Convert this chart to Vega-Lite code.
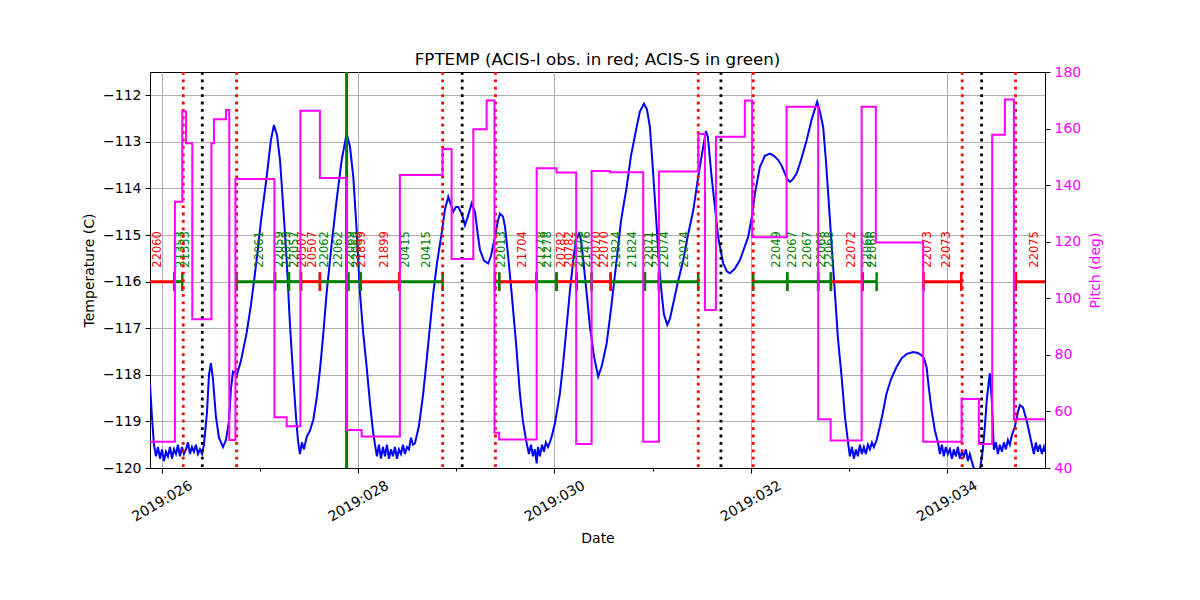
{
  "$schema": "https://vega.github.io/schema/vega-lite/v6.json",
  "width": 895,
  "height": 396,
  "autosize": "none",
  "padding": {"left": 150, "top": 72, "right": 155, "bottom": 132},
  "config": {
    "view": {"stroke": "black", "strokeWidth": 1},
    "font": "DejaVu Sans",
    "axis": {
      "labelFont": "DejaVu Sans", "labelFontSize": 14, "labelColor": "black",
      "titleFont": "DejaVu Sans", "titleFontSize": 14, "titleFontWeight": "normal", "titleColor": "black",
      "domainColor": "black", "tickColor": "black", "gridColor": "#b0b0b0", "gridWidth": 1
    }
  },
  "title": {"text": "FPTEMP (ACIS-I obs. in red; ACIS-S in green)", "font": "DejaVu Sans", "fontSize": 16.7, "fontWeight": "normal", "color": "black", "offset": -4},
  "datasets": {
    "temp": [
      {"d":25.878,"t":-118.2},{"d":25.898,"t":-118.9},{"d":25.918,"t":-119.5},{"d":25.939,"t":-119.75},
      {"d":25.959,"t":-119.55},{"d":25.980,"t":-119.8},{"d":26.000,"t":-119.6},{"d":26.020,"t":-119.85},
      {"d":26.041,"t":-119.65},{"d":26.061,"t":-119.75},{"d":26.082,"t":-119.55},{"d":26.102,"t":-119.8},
      {"d":26.122,"t":-119.6},{"d":26.143,"t":-119.7},{"d":26.163,"t":-119.5},{"d":26.183,"t":-119.75},
      {"d":26.204,"t":-119.55},{"d":26.224,"t":-119.7},{"d":26.245,"t":-119.6},{"d":26.265,"t":-119.45},
      {"d":26.285,"t":-119.7},{"d":26.306,"t":-119.55},{"d":26.326,"t":-119.65},{"d":26.346,"t":-119.5},
      {"d":26.367,"t":-119.7},{"d":26.387,"t":-119.6},{"d":26.408,"t":-119.7},{"d":26.428,"t":-119.5},
      {"d":26.459,"t":-118.8},{"d":26.479,"t":-118.0},{"d":26.499,"t":-117.75},{"d":26.520,"t":-118.1},
      {"d":26.550,"t":-118.9},{"d":26.581,"t":-119.35},{"d":26.622,"t":-119.55},{"d":26.652,"t":-119.4},
      {"d":26.683,"t":-119.0},{"d":26.703,"t":-118.3},{"d":26.724,"t":-117.93},{"d":26.744,"t":-117.95},
      {"d":26.764,"t":-118.0},{"d":26.805,"t":-117.7},{"d":26.863,"t":-117.1},{"d":26.907,"t":-116.5},
      {"d":26.965,"t":-115.54},{"d":27.009,"t":-114.7},{"d":27.067,"t":-113.75},{"d":27.111,"t":-112.95},
      {"d":27.141,"t":-112.64},{"d":27.172,"t":-112.85},{"d":27.203,"t":-113.39},{"d":27.233,"t":-114.3},
      {"d":27.271,"t":-115.54},{"d":27.304,"t":-116.9},{"d":27.338,"t":-118.04},{"d":27.366,"t":-118.9},
      {"d":27.386,"t":-119.4},{"d":27.406,"t":-119.7},{"d":27.427,"t":-119.45},{"d":27.447,"t":-119.6},
      {"d":27.475,"t":-119.33},{"d":27.508,"t":-119.2},{"d":27.542,"t":-118.97},{"d":27.577,"t":-118.5},
      {"d":27.610,"t":-117.9},{"d":27.641,"t":-117.2},{"d":27.678,"t":-116.25},{"d":27.729,"t":-115.2},
      {"d":27.780,"t":-114.25},{"d":27.831,"t":-113.4},{"d":27.882,"t":-112.82},{"d":27.916,"t":-113.1},
      {"d":27.950,"t":-113.75},{"d":27.984,"t":-114.9},{"d":28.018,"t":-116.25},{"d":28.051,"t":-117.1},
      {"d":28.086,"t":-117.83},{"d":28.120,"t":-118.6},{"d":28.150,"t":-119.2},{"d":28.171,"t":-119.5},
      {"d":28.191,"t":-119.75},{"d":28.211,"t":-119.5},{"d":28.232,"t":-119.8},{"d":28.252,"t":-119.55},
      {"d":28.273,"t":-119.75},{"d":28.293,"t":-119.5},{"d":28.313,"t":-119.8},{"d":28.334,"t":-119.6},
      {"d":28.354,"t":-119.75},{"d":28.375,"t":-119.55},{"d":28.395,"t":-119.8},{"d":28.415,"t":-119.6},
      {"d":28.436,"t":-119.7},{"d":28.456,"t":-119.5},{"d":28.476,"t":-119.7},{"d":28.497,"t":-119.55},
      {"d":28.517,"t":-119.6},{"d":28.538,"t":-119.35},{"d":28.558,"t":-119.5},{"d":28.578,"t":-119.47},
      {"d":28.619,"t":-119.1},{"d":28.663,"t":-118.4},{"d":28.711,"t":-117.4},{"d":28.765,"t":-116.25},
      {"d":28.803,"t":-115.6},{"d":28.850,"t":-114.97},{"d":28.884,"t":-114.45},{"d":28.918,"t":-114.18},
      {"d":28.945,"t":-114.35},{"d":28.969,"t":-114.5},{"d":28.996,"t":-114.4},{"d":29.020,"t":-114.4},
      {"d":29.057,"t":-114.55},{"d":29.088,"t":-114.79},{"d":29.118,"t":-114.6},{"d":29.156,"t":-114.32},
      {"d":29.190,"t":-114.5},{"d":29.220,"t":-115.0},{"d":29.241,"t":-115.32},{"d":29.282,"t":-115.55},
      {"d":29.325,"t":-115.61},{"d":29.353,"t":-115.45},{"d":29.394,"t":-115.04},{"d":29.424,"t":-114.7},
      {"d":29.445,"t":-114.54},{"d":29.475,"t":-114.6},{"d":29.496,"t":-114.82},{"d":29.526,"t":-115.4},
      {"d":29.564,"t":-116.25},{"d":29.608,"t":-117.3},{"d":29.648,"t":-118.4},{"d":29.679,"t":-119.0},
      {"d":29.717,"t":-119.47},{"d":29.740,"t":-119.7},{"d":29.761,"t":-119.5},{"d":29.781,"t":-119.75},
      {"d":29.801,"t":-119.6},{"d":29.819,"t":-119.9},{"d":29.832,"t":-119.55},{"d":29.852,"t":-119.75},
      {"d":29.873,"t":-119.5},{"d":29.893,"t":-119.65},{"d":29.913,"t":-119.45},{"d":29.934,"t":-119.55},
      {"d":29.954,"t":-119.45},{"d":29.975,"t":-119.3},{"d":30.005,"t":-119.04},{"d":30.056,"t":-118.4},
      {"d":30.087,"t":-117.8},{"d":30.124,"t":-116.97},{"d":30.158,"t":-116.2},{"d":30.192,"t":-115.54},
      {"d":30.219,"t":-115.1},{"d":30.253,"t":-114.97},{"d":30.270,"t":-115.1},{"d":30.294,"t":-115.54},
      {"d":30.331,"t":-116.3},{"d":30.362,"t":-116.97},{"d":30.403,"t":-117.6},{"d":30.446,"t":-118.04},
      {"d":30.484,"t":-117.8},{"d":30.532,"t":-117.33},{"d":30.576,"t":-116.6},{"d":30.634,"t":-115.54},
      {"d":30.678,"t":-114.7},{"d":30.736,"t":-113.97},{"d":30.780,"t":-113.3},{"d":30.838,"t":-112.68},
      {"d":30.871,"t":-112.35},{"d":30.912,"t":-112.18},{"d":30.943,"t":-112.3},{"d":30.973,"t":-112.68},
      {"d":31.004,"t":-113.6},{"d":31.042,"t":-114.82},{"d":31.065,"t":-115.6},{"d":31.093,"t":-116.25},
      {"d":31.116,"t":-116.7},{"d":31.150,"t":-116.93},{"d":31.177,"t":-116.8},{"d":31.211,"t":-116.47},
      {"d":31.259,"t":-116.0},{"d":31.313,"t":-115.54},{"d":31.361,"t":-115.0},{"d":31.415,"t":-114.47},
      {"d":31.462,"t":-113.8},{"d":31.516,"t":-113.11},{"d":31.544,"t":-112.77},{"d":31.564,"t":-112.9},
      {"d":31.602,"t":-113.75},{"d":31.636,"t":-114.4},{"d":31.669,"t":-115.04},{"d":31.720,"t":-115.61},
      {"d":31.758,"t":-115.78},{"d":31.789,"t":-115.82},{"d":31.839,"t":-115.72},{"d":31.890,"t":-115.54},
      {"d":31.931,"t":-115.3},{"d":31.975,"t":-115.04},{"d":32.013,"t":-114.6},{"d":32.043,"t":-114.11},
      {"d":32.094,"t":-113.54},{"d":32.145,"t":-113.3},{"d":32.196,"t":-113.25},{"d":32.237,"t":-113.3},
      {"d":32.281,"t":-113.39},{"d":32.318,"t":-113.52},{"d":32.349,"t":-113.68},{"d":32.380,"t":-113.82},
      {"d":32.400,"t":-113.86},{"d":32.431,"t":-113.8},{"d":32.468,"t":-113.68},{"d":32.512,"t":-113.4},
      {"d":32.570,"t":-112.97},{"d":32.624,"t":-112.5},{"d":32.678,"t":-112.14},{"d":32.706,"t":-112.35},
      {"d":32.739,"t":-112.68},{"d":32.767,"t":-113.4},{"d":32.790,"t":-114.11},{"d":32.825,"t":-115.2},
      {"d":32.859,"t":-116.25},{"d":32.889,"t":-117.2},{"d":32.927,"t":-118.04},{"d":32.961,"t":-118.9},
      {"d":32.994,"t":-119.47},{"d":33.011,"t":-119.75},{"d":33.032,"t":-119.55},{"d":33.052,"t":-119.8},
      {"d":33.073,"t":-119.6},{"d":33.093,"t":-119.75},{"d":33.113,"t":-119.5},{"d":33.134,"t":-119.7},
      {"d":33.154,"t":-119.55},{"d":33.174,"t":-119.7},{"d":33.195,"t":-119.5},{"d":33.215,"t":-119.6},
      {"d":33.236,"t":-119.45},{"d":33.256,"t":-119.55},{"d":33.284,"t":-119.4},{"d":33.317,"t":-119.11},
      {"d":33.348,"t":-118.8},{"d":33.385,"t":-118.4},{"d":33.429,"t":-118.1},{"d":33.487,"t":-117.83},
      {"d":33.541,"t":-117.64},{"d":33.592,"t":-117.55},{"d":33.657,"t":-117.51},{"d":33.704,"t":-117.53},
      {"d":33.742,"t":-117.58},{"d":33.766,"t":-117.65},{"d":33.793,"t":-117.83},{"d":33.817,"t":-118.3},
      {"d":33.844,"t":-118.76},{"d":33.878,"t":-119.2},{"d":33.911,"t":-119.47},{"d":33.929,"t":-119.7},
      {"d":33.949,"t":-119.5},{"d":33.969,"t":-119.75},{"d":33.990,"t":-119.55},{"d":34.010,"t":-119.7},
      {"d":34.031,"t":-119.6},{"d":34.051,"t":-119.8},{"d":34.071,"t":-119.6},{"d":34.092,"t":-119.75},
      {"d":34.112,"t":-119.55},{"d":34.132,"t":-119.8},{"d":34.153,"t":-119.65},{"d":34.173,"t":-119.75},
      {"d":34.194,"t":-119.6},{"d":34.214,"t":-119.85},{"d":34.234,"t":-119.7},{"d":34.268,"t":-119.97},
      {"d":34.296,"t":-120.1},{"d":34.336,"t":-120.05},{"d":34.367,"t":-119.6},{"d":34.387,"t":-119.11},
      {"d":34.408,"t":-118.5},{"d":34.438,"t":-117.97},{"d":34.459,"t":-118.6},{"d":34.479,"t":-119.61},
      {"d":34.499,"t":-119.45},{"d":34.520,"t":-119.7},{"d":34.540,"t":-119.5},{"d":34.561,"t":-119.65},
      {"d":34.581,"t":-119.45},{"d":34.601,"t":-119.6},{"d":34.622,"t":-119.4},{"d":34.642,"t":-119.5},
      {"d":34.662,"t":-119.3},{"d":34.693,"t":-119.11},{"d":34.724,"t":-118.8},{"d":34.744,"t":-118.65},
      {"d":34.775,"t":-118.7},{"d":34.812,"t":-118.97},{"d":34.836,"t":-119.2},{"d":34.863,"t":-119.47},
      {"d":34.887,"t":-119.7},{"d":34.907,"t":-119.45},{"d":34.927,"t":-119.65},{"d":34.948,"t":-119.5},
      {"d":34.968,"t":-119.7},{"d":34.989,"t":-119.55},{"d":35.000,"t":-119.65}
    ],
    "pitch": [
      {"d":25.878,"p":49.3},{"d":26.132,"p":134.1},{"d":26.207,"p":166},{"d":26.245,"p":154.8},
      {"d":26.309,"p":92.6},{"d":26.504,"p":154.8},{"d":26.530,"p":163.3},{"d":26.652,"p":166.6},
      {"d":26.686,"p":49.9},{"d":26.749,"p":142.2},{"d":27.146,"p":57.9},{"d":27.271,"p":54.8},
      {"d":27.411,"p":166.3},{"d":27.610,"p":142.5},{"d":27.885,"p":53.4},{"d":28.035,"p":51.1},
      {"d":28.425,"p":143.6},{"d":28.859,"p":152.8},{"d":28.952,"p":113.9},{"d":29.173,"p":159.8},
      {"d":29.309,"p":169.9},{"d":29.389,"p":52.5},{"d":29.437,"p":50.1},{"d":29.819,"p":146},
      {"d":30.022,"p":144.5},{"d":30.222,"p":48.5},{"d":30.379,"p":145},{"d":30.566,"p":144.6},
      {"d":30.905,"p":49.3},{"d":31.065,"p":144.8},{"d":31.466,"p":158.1},{"d":31.534,"p":95.9},
      {"d":31.646,"p":157.1},{"d":31.941,"p":169.9},{"d":32.016,"p":121.6},{"d":32.366,"p":167.7},
      {"d":32.688,"p":57.2},{"d":32.815,"p":49.7},{"d":33.131,"p":167.7},{"d":33.276,"p":119.7},
      {"d":33.759,"p":49.3},{"d":34.150,"p":64.4},{"d":34.326,"p":48.5},{"d":34.462,"p":157.8},
      {"d":34.591,"p":170.3},{"d":34.683,"p":57.2},{"d":35.000,"p":57.2}
    ],
    "obs": [
      {"start":25.80,"end":26.125,"instr":"I"},{"start":26.125,"end":26.207,"instr":"S"},
      {"start":26.761,"end":27.152,"instr":"S"},{"start":27.152,"end":27.294,"instr":"S"},
      {"start":27.294,"end":27.417,"instr":"S"},{"start":27.417,"end":27.610,"instr":"I"},
      {"start":27.610,"end":27.899,"instr":"S"},{"start":27.899,"end":28.025,"instr":"S"},
      {"start":28.025,"end":28.418,"instr":"I"},{"start":28.418,"end":28.861,"instr":"S"},
      {"start":29.394,"end":29.437,"instr":"S"},{"start":29.437,"end":29.818,"instr":"I"},
      {"start":29.818,"end":30.022,"instr":"S"},{"start":30.022,"end":30.226,"instr":"I"},
      {"start":30.226,"end":30.379,"instr":"S"},{"start":30.379,"end":30.573,"instr":"I"},
      {"start":30.573,"end":30.922,"instr":"S"},{"start":30.922,"end":31.065,"instr":"S"},
      {"start":31.065,"end":31.466,"instr":"S"},{"start":32.026,"end":32.373,"instr":"S"},
      {"start":32.373,"end":32.688,"instr":"S"},{"start":32.688,"end":32.818,"instr":"S"},
      {"start":32.818,"end":33.141,"instr":"I"},{"start":33.141,"end":33.284,"instr":"S"},
      {"start":33.762,"end":34.146,"instr":"I"},{"start":34.703,"end":35.2,"instr":"I"}
    ],
    "labels": [
      {"d":25.962,"id":"22060","instr":"I"},{"d":26.191,"id":"21353","instr":"S"},{"d":26.242,"id":"21353","instr":"S"},
      {"d":26.999,"id":"22061","instr":"S"},{"d":27.203,"id":"22059","instr":"S"},{"d":27.271,"id":"22059","instr":"S"},
      {"d":27.355,"id":"22057","instr":"S"},{"d":27.440,"id":"20507","instr":"I"},{"d":27.542,"id":"20507","instr":"I"},
      {"d":27.661,"id":"22062","instr":"S"},{"d":27.804,"id":"22062","instr":"S"},{"d":27.926,"id":"22069","instr":"S"},
      {"d":27.987,"id":"22069","instr":"S"},{"d":28.038,"id":"21899","instr":"I"},{"d":28.273,"id":"21899","instr":"I"},
      {"d":28.484,"id":"20415","instr":"S"},{"d":28.698,"id":"20415","instr":"S"},{"d":29.462,"id":"22013","instr":"S"},
      {"d":29.682,"id":"21704","instr":"I"},{"d":29.870,"id":"21278","instr":"S"},{"d":29.937,"id":"21278","instr":"S"},
      {"d":30.073,"id":"20782","instr":"I"},{"d":30.158,"id":"20782","instr":"I"},{"d":30.260,"id":"21476","instr":"S"},
      {"d":30.328,"id":"21476","instr":"S"},{"d":30.430,"id":"22070","instr":"I"},{"d":30.515,"id":"22070","instr":"I"},
      {"d":30.634,"id":"21824","instr":"S"},{"d":30.803,"id":"21824","instr":"S"},{"d":30.973,"id":"22071","instr":"S"},
      {"d":31.041,"id":"22071","instr":"S"},{"d":31.126,"id":"22074","instr":"S"},{"d":31.330,"id":"22074","instr":"S"},
      {"d":32.264,"id":"22049","instr":"S"},{"d":32.434,"id":"22067","instr":"S"},{"d":32.586,"id":"22067","instr":"S"},
      {"d":32.723,"id":"22068","instr":"S"},{"d":32.808,"id":"22068","instr":"S"},{"d":33.029,"id":"22072","instr":"I"},
      {"d":33.198,"id":"22066","instr":"S"},{"d":33.249,"id":"22066","instr":"S"},{"d":33.809,"id":"22073","instr":"I"},
      {"d":33.997,"id":"22073","instr":"I"},{"d":34.897,"id":"22075","instr":"I"}
    ],
    "redLines": [{"d":26.217},{"d":26.761},{"d":28.861},{"d":29.399},{"d":31.466},{"d":32.026},{"d":34.156},{"d":34.700}],
    "blackLines": [{"d":26.411},{"d":29.060},{"d":31.697},{"d":34.354}],
    "greenLines": [{"d":27.882}]
  },
  "layer": [
    {
      "layer": [
        {
          "data": {"name": "temp"},
          "mark": {"type": "line", "color": "#0000ff", "strokeWidth": 2, "clip": true},
          "encoding": {
            "x": {
              "field": "d", "type": "quantitative",
              "scale": {"domain": [25.878, 35.0], "nice": false, "zero": false},
              "axis": {
                "orient": "bottom",
                "title": "Date", "titlePadding": 8,
                "values": [26, 28, 30, 32, 34],
                "labelExpr": "'2019:0' + datum.value",
                "labelAngle": -30, "labelAlign": "center", "labelBaseline": "middle",
                "labelPadding": 28, "labelFlush": false, "labelOverlap": false,
                "tickSize": 5,
                "grid": true
              }
            },
            "y": {
              "field": "t", "type": "quantitative",
              "scale": {"domain": [-120, -111.5], "nice": false, "zero": false},
              "axis": {
                "title": "Temperature (C)", "titlePadding": 6,
                "values": [-120, -119, -118, -117, -116, -115, -114, -113, -112],
                "tickSize": 5, "labelPadding": 4, "grid": true
              }
            }
          }
        },
        {
          "mark": {"type": "rule", "color": "#0000ff", "strokeWidth": 1, "strokeDash": [5, 2.5]},
          "encoding": {"y": {"datum": -112}}
        },
        {
          "mark": {"type": "rule", "color": "#800080", "strokeWidth": 1, "strokeDash": [5, 2.5]},
          "encoding": {"y": {"datum": -114}}
        },
        {
          "mark": {"type": "rule", "color": "#ff0000", "strokeWidth": 2.8, "strokeDash": [10, 4.5]},
          "encoding": {"y": {"datum": -118.7}}
        },
        {
          "data": {"name": "obs"},
          "mark": {"type": "rule", "strokeWidth": 3, "clip": true},
          "encoding": {
            "x": {"field": "start", "type": "quantitative"},
            "x2": {"field": "end"},
            "y": {"datum": -116},
            "color": {"field": "instr", "type": "nominal", "scale": {"domain": ["I", "S"], "range": ["#ff0000", "#008000"]}, "legend": null}
          }
        },
        {
          "data": {"name": "obs"},
          "mark": {"type": "rule", "strokeWidth": 2.5, "clip": true},
          "encoding": {
            "x": {"field": "start", "type": "quantitative"},
            "y": {"datum": -115.8},
            "y2": {"datum": -116.2},
            "color": {"field": "instr", "type": "nominal", "legend": null}
          }
        },
        {
          "data": {"name": "obs"},
          "mark": {"type": "rule", "strokeWidth": 2.5, "clip": true},
          "encoding": {
            "x": {"field": "end", "type": "quantitative"},
            "y": {"datum": -115.8},
            "y2": {"datum": -116.2},
            "color": {"field": "instr", "type": "nominal", "legend": null}
          }
        },
        {
          "data": {"name": "labels"},
          "mark": {"type": "text", "angle": 270, "align": "left", "baseline": "middle", "fontSize": 11.5, "font": "DejaVu Sans", "clip": true},
          "encoding": {
            "x": {"field": "d", "type": "quantitative"},
            "y": {"datum": -115.7},
            "text": {"field": "id", "type": "nominal"},
            "color": {"field": "instr", "type": "nominal", "legend": null}
          }
        },
        {
          "data": {"name": "redLines"},
          "mark": {"type": "rule", "color": "#ff0000", "strokeWidth": 2.8, "strokeDash": [2.8, 4.6]},
          "encoding": {"x": {"field": "d", "type": "quantitative"}}
        },
        {
          "data": {"name": "blackLines"},
          "mark": {"type": "rule", "color": "#000000", "strokeWidth": 2.8, "strokeDash": [2.8, 4.6]},
          "encoding": {"x": {"field": "d", "type": "quantitative"}}
        },
        {
          "data": {"name": "greenLines"},
          "mark": {"type": "rule", "color": "#008000", "strokeWidth": 3},
          "encoding": {"x": {"field": "d", "type": "quantitative"}}
        }
      ]
    },
    {
      "data": {"name": "pitch"},
      "mark": {"type": "line", "interpolate": "step-after", "color": "#ff00ff", "strokeWidth": 2, "clip": true},
      "encoding": {
        "x": {
          "field": "d", "type": "quantitative",
          "axis": {
            "orient": "bottom", "title": null, "values": [27, 29, 31, 33],
            "labels": false, "domain": false, "grid": false, "tickSize": 3
          }
        },
        "y": {
          "field": "p", "type": "quantitative",
          "scale": {"domain": [40, 180], "nice": false, "zero": false},
          "axis": {
            "orient": "right", "title": "Pitch (deg)", "titleColor": "#ff00ff", "titlePadding": 8,
            "titleAngle": 270, "titleBaseline": "top",
            "values": [40, 60, 80, 100, 120, 140, 160, 180],
            "labelColor": "#ff00ff", "tickSize": 5, "labelPadding": 4, "grid": false
          }
        }
      }
    }
  ],
  "resolve": {"scale": {"y": "independent"}, "axis": {"x": "independent"}}
}
